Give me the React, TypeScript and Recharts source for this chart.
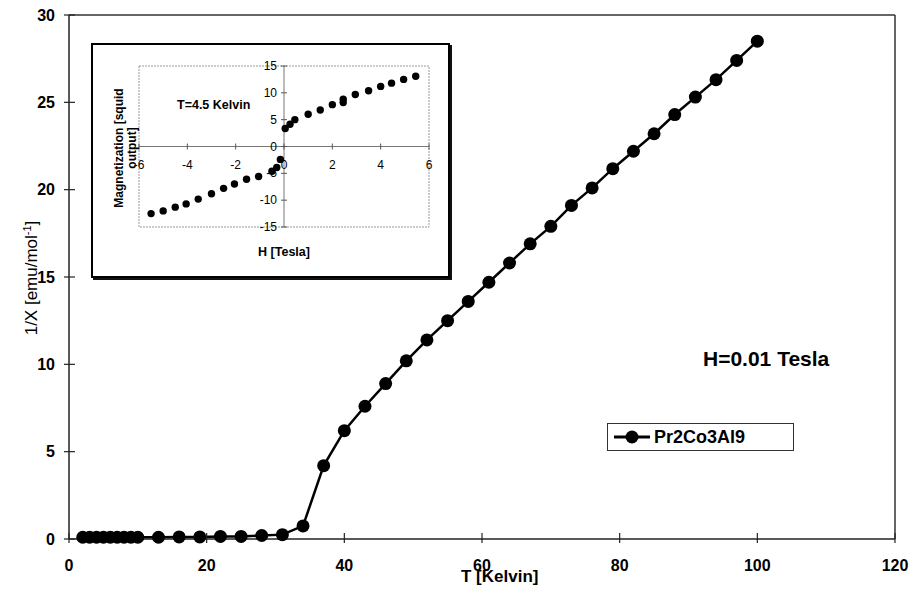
import React from "react"
import {
  LineChart,
  Line,
  XAxis,
  YAxis,
  ReferenceLine,
  ReferenceArea,
  ScatterChart,
  Scatter,
} from "recharts"

// main curve: inverse susceptibility vs temperature
const temperatures = [
  2, 3, 4, 5, 6, 7, 8, 9, 10, 13, 16, 19, 22, 25, 28, 31, 34, 37, 40, 43, 46, 49, 52, 55, 58, 61, 64,
  67, 70, 73, 76, 79, 82, 85, 88, 91, 94, 97, 100,
]
const inverseChi = [
  0.1, 0.1, 0.1, 0.1, 0.1, 0.1, 0.1, 0.1, 0.1, 0.1, 0.12, 0.12, 0.15, 0.15, 0.2, 0.25, 0.75, 4.2, 6.2,
  7.6, 8.9, 10.2, 11.4, 12.5, 13.6, 14.7, 15.8, 16.9, 17.9, 19.1, 20.1, 21.2, 22.2, 23.2, 24.3, 25.3,
  26.3, 27.4, 28.5,
]
const xTicks = [0, 20, 40, 60, 80, 100, 120]
const yTicks = [0, 5, 10, 15, 20, 25, 30]

// inset: magnetization loop at 4.5 K
const fieldH = [
  -5.5, -5.0, -4.5, -4.05, -3.55, -3.0, -2.5, -2.05, -1.55, -1.05, -0.5, -0.3, -0.15, 0.05, 0.25, 0.45,
  1.0, 1.5, 2.0, 2.45, 2.45, 2.95, 3.5, 4.0, 4.45, 4.95, 5.45,
]
const magnetization = [
  -12.5, -12.0, -11.3, -10.7, -9.8, -8.8, -7.8, -7.0, -6.1, -5.6, -4.6, -3.9, -2.4, 3.35, 4.15, 5.0,
  6.0, 6.8, 7.8, 8.2, 8.8, 9.7, 10.4, 11.2, 11.8, 12.5, 13.1,
]
const insetXTicks = [-6, -4, -2, 0, 2, 4, 6]
const insetYTicks = [-15, -10, -5, 0, 5, 10, 15]

const seriesName = "Pr2Co3Al9"
const FONT = "'Liberation Sans', Arial, sans-serif"

const mainData = temperatures.map((t, i) => ({ T: t, v: inverseChi[i] }))
const insetData = fieldH.map((h, i) => ({ H: h, M: magnetization[i] }))

const INSET_W = 355
const INSET_H = 231
// axis widths of 1px are taken out of these margins (an axis of size 0 is not drawn)
const insetMargin = { top: 21, right: 19, bottom: 48, left: 45 }
const INSET_PLOT_W = INSET_W - insetMargin.left - 1 - insetMargin.right
const INSET_PLOT_H = INSET_H - insetMargin.top - 1 - insetMargin.bottom

const YTick = ({ x, y, payload }: any) => (
  <g>
    <line x1={x - 5} x2={x + 6} y1={y} y2={y} stroke="#222" strokeWidth={1.2} />
    <text x={x - 14} y={y} textAnchor="end" dominantBaseline="central" fontSize={16} fontWeight="bold" fontFamily={FONT} fill="#000">
      {payload.value}
    </text>
  </g>
)

const XTick = ({ x, y, payload }: any) => (
  <g>
    <line x1={x} x2={x} y1={y - 6} y2={y + 4} stroke="#222" strokeWidth={1.2} />
    <text x={x} y={y + 32} textAnchor="middle" fontSize={16} fontWeight="bold" fontFamily={FONT} fill="#000">
      {payload.value}
    </text>
  </g>
)

// inset axes cross at the origin, so the ticks are moved onto the zero lines
const InsetXTick = ({ x, y, payload }: any) => {
  const zeroY = y - INSET_PLOT_H / 2
  return (
    <g>
      <line x1={x} x2={x} y1={zeroY - 3} y2={zeroY + 3} stroke="#555" />
      <text x={x} y={zeroY + 22} textAnchor="middle" fontSize={12} fontFamily={FONT} fill="#000">
        {payload.value}
      </text>
    </g>
  )
}

const InsetYTick = ({ x, y, payload }: any) => {
  const zeroX = x + INSET_PLOT_W / 2
  return (
    <g>
      <line x1={zeroX - 3} x2={zeroX + 3} y1={y} y2={y} stroke="#555" />
      <text x={zeroX - 7} y={y} textAnchor="end" dominantBaseline="central" fontSize={12} fontFamily={FONT} fill="#000">
        {payload.value}
      </text>
    </g>
  )
}

const InsetDot = (props: any) => <circle cx={props.cx} cy={props.cy} r={3.7} fill="#000" />

export default function App() {
  return (
    <div style={{ position: "absolute", left: 0, top: 0, width: 911, height: 589, background: "#fff", fontFamily: FONT }}>
      <LineChart width={911} height={589} data={mainData} margin={{ top: 15, right: 16, bottom: 0, left: 0 }}>
        <XAxis
          type="number"
          dataKey="T"
          domain={[0, 120]}
          ticks={xTicks}
          height={50}
          tickSize={0}
          tickMargin={0}
          tick={<XTick />}
          axisLine={{ stroke: "#222", strokeWidth: 1.5 }}
        />
        <YAxis
          type="number"
          domain={[0, 30]}
          ticks={yTicks}
          width={69}
          tickSize={0}
          tickMargin={0}
          tick={<YTick />}
          axisLine={{ stroke: "#222", strokeWidth: 1.5 }}
        />
        <ReferenceLine y={30} stroke="#333" strokeWidth={1.5} />
        <ReferenceLine x={120} stroke="#333" strokeWidth={1.5} />
        <Line
          type="linear"
          dataKey="v"
          name={seriesName}
          stroke="#000"
          strokeWidth={2.5}
          dot={{ r: 6.5, fill: "#000", stroke: "#000", strokeWidth: 0 }}
          isAnimationActive={false}
        />
      </LineChart>

      <svg width={911} height={589} style={{ position: "absolute", left: 0, top: 0, pointerEvents: "none" }}>
        <text
          transform="translate(37, 278) rotate(-90)"
          textAnchor="middle"
          fontSize={17}
          fontFamily={FONT}
          fill="#000"
        >
          1/X [emu/mol
          <tspan dy={-6} fontSize={11}>-1</tspan>
          <tspan dy={6}>]</tspan>
        </text>
        <text x={461} y={582} fontSize={17} fontWeight="bold" fontFamily={FONT} fill="#000">
          T [Kelvin]
        </text>
        <text x={703} y={366} fontSize={21} fontWeight="bold" fontFamily={FONT} fill="#000">
          H=0.01 Tesla
        </text>
      </svg>

      {/* legend */}
      <div
        style={{
          position: "absolute",
          left: 607,
          top: 423,
          width: 187,
          height: 28,
          boxSizing: "border-box",
          border: "1px solid #333",
          background: "#fff",
          display: "flex",
          alignItems: "center",
        }}
      >
        <svg width={42} height={26} style={{ marginLeft: 4 }}>
          <line x1={2} x2={38} y1={13} y2={13} stroke="#000" strokeWidth={3} />
          <circle cx={20} cy={13} r={6.5} fill="#000" />
        </svg>
        <span style={{ fontSize: 18, fontWeight: "bold", marginLeft: 0 }}>{seriesName}</span>
      </div>

      {/* inset */}
      <div
        style={{
          position: "absolute",
          left: 91,
          top: 43,
          width: INSET_W + 4,
          height: INSET_H + 4,
          boxSizing: "border-box",
          border: "2px solid #000",
          boxShadow: "2px 2px 0 #111",
          background: "#fff",
        }}
      >
        <ScatterChart width={INSET_W} height={INSET_H} margin={insetMargin}>
          <ReferenceArea x1={-6} x2={6} y1={-15} y2={15} fill="none" stroke="#999" strokeDasharray="2 1" />
          <XAxis
            type="number"
            dataKey="H"
            domain={[-6, 6]}
            ticks={insetXTicks}
            height={1}
            tickSize={0}
            tickMargin={0}
            axisLine={false}
            tick={<InsetXTick />}
          />
          <YAxis
            type="number"
            dataKey="M"
            domain={[-15, 15]}
            ticks={insetYTicks}
            width={1}
            tickSize={0}
            tickMargin={0}
            axisLine={false}
            tick={<InsetYTick />}
          />
          <ReferenceLine y={0} stroke="#777" />
          <ReferenceLine x={0} stroke="#777" />
          <Scatter data={insetData} fill="#000" shape={<InsetDot />} isAnimationActive={false} />
        </ScatterChart>
        <svg width={INSET_W} height={INSET_H} style={{ position: "absolute", left: 0, top: 0, pointerEvents: "none" }}>
          <text transform="translate(30, 103) rotate(-90)" textAnchor="middle" fontSize={12} fontWeight="bold" fontFamily={FONT} fill="#000">
            <tspan x={0} dy={0}>Magnetization [squid</tspan>
            <tspan x={0} dy={13}>output]</tspan>
          </text>
          <text x={84} y={64} fontSize={12.5} fontWeight="bold" fontFamily={FONT} fill="#000">
            T=4.5 Kelvin
          </text>
          <text x={191} y={211} textAnchor="middle" fontSize={12.5} fontWeight="bold" fontFamily={FONT} fill="#000">
            H [Tesla]
          </text>
        </svg>
      </div>
    </div>
  )
}
